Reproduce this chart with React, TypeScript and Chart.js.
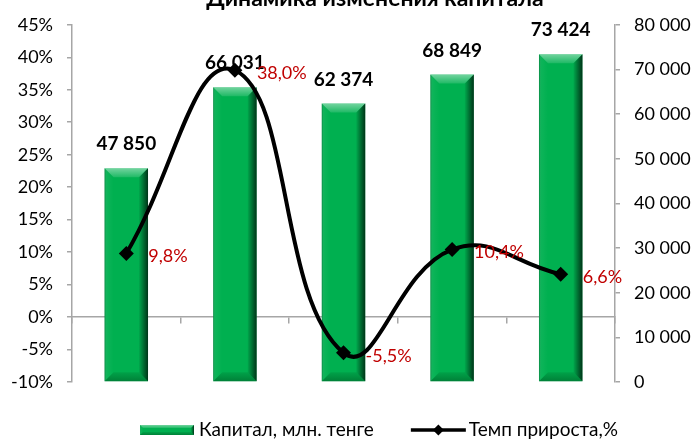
import React, { useEffect, useRef } from 'react';
import { Chart, registerables } from 'chart.js';

Chart.register(...registerables);

const chartTitle = 'Динамика изменения капитала';
const years = ['2013', '2014', '2015', '2016', '2017'];
const capital = [47850, 66031, 62374, 68849, 73424];
const growth = [9.8, 38.0, -5.5, 10.4, 6.6];
const capitalLabel = 'Капитал, млн. тенге';
const growthLabel = 'Темп прироста,%';
const pctMin = -10;
const pctMax = 45;
const pctStep = 5;
const capMin = 0;
const capMax = 80000;
const capStep = 10000;

const FONT = 'Lato, "Liberation Sans", sans-serif';
const GREEN = '#00B050';
const AXIS = '#A6A6A6';
const RED = '#C00000';

const fmtThousands = (v: number) => String(Math.round(v)).replace(/\B(?=(\d{3})+(?!\d))/g, ' ');
const fmtPct = (v: number) => v.toFixed(1).replace('.', ',') + '%';

function poly(ctx: CanvasRenderingContext2D, pts: number[][], fill: any) {
  ctx.beginPath();
  ctx.moveTo(pts[0][0], pts[0][1]);
  for (let i = 1; i < pts.length; i++) ctx.lineTo(pts[i][0], pts[i][1]);
  ctx.closePath();
  ctx.fillStyle = fill;
  ctx.fill();
}

function drawBevel(ctx: CanvasRenderingContext2D, left: number, top: number, w: number, h: number, b: number) {
  const right = left + w;
  const bottom = top + h;
  ctx.save();
  let g = ctx.createLinearGradient(0, top, 0, top + b);
  g.addColorStop(0, 'rgba(255,255,255,0.45)');
  g.addColorStop(1, 'rgba(255,255,255,0.12)');
  poly(ctx, [[left, top], [right, top], [right - b, top + b], [left + b, top + b]], g);
  g = ctx.createLinearGradient(0, bottom - b, 0, bottom);
  g.addColorStop(0, 'rgba(0,40,10,0.10)');
  g.addColorStop(1, 'rgba(0,40,10,0.35)');
  poly(ctx, [[left, bottom], [right, bottom], [right - b, bottom - b], [left + b, bottom - b]], g);
  g = ctx.createLinearGradient(left, 0, left + b, 0);
  g.addColorStop(0, 'rgba(0,0,0,0.25)');
  g.addColorStop(0.25, 'rgba(255,255,255,0.05)');
  g.addColorStop(1, 'rgba(255,255,255,0.0)');
  poly(ctx, [[left, top], [left + b, top + b], [left + b, bottom - b], [left, bottom]], g);
  g = ctx.createLinearGradient(right - b, 0, right, 0);
  g.addColorStop(0, 'rgba(0,0,0,0.05)');
  g.addColorStop(1, 'rgba(0,0,0,0.7)');
  poly(ctx, [[right, top], [right - b, top + b], [right - b, bottom - b], [right, bottom]], g);
  ctx.restore();
}

function drawDiamond(ctx: CanvasRenderingContext2D, x: number, y: number, r: number) {
  poly(ctx, [[x, y - r], [x + r, y], [x, y + r], [x - r, y]], '#000');
}

const decorPlugin = {
  id: 'decor',
  afterDatasetDraw(chart: any, args: any) {
    if (args.index !== 0) return;
    const ctx: CanvasRenderingContext2D = chart.ctx;
    const meta = chart.getDatasetMeta(0);
    meta.data.forEach((el: any, i: number) => {
      const p = el.getProps(['x', 'y', 'base', 'width'], true);
      drawBevel(ctx, p.x - p.width / 2, p.y, p.width, p.base - p.y, 9);
      ctx.save();
      ctx.font = `bold 19px ${FONT}`;
      ctx.fillStyle = '#000';
      ctx.textAlign = 'center';
      ctx.textBaseline = 'middle';
      ctx.fillText(fmtThousands(capital[i]), p.x, p.y - 24);
      ctx.restore();
    });
  },
  afterDraw(chart: any) {
    const ctx: CanvasRenderingContext2D = chart.ctx;
    // line labels
    const meta = chart.getDatasetMeta(1);
    ctx.save();
    ctx.font = `18px ${FONT}`;
    ctx.fillStyle = RED;
    ctx.textAlign = 'left';
    ctx.textBaseline = 'middle';
    meta.data.forEach((el: any, i: number) => {
      const p = el.getProps(['x', 'y'], true);
      ctx.fillText(fmtPct(growth[i]), p.x + 22, p.y + 3);
    });
    ctx.restore();

    // title (clipped at top as in the reference)
    ctx.save();
    ctx.font = `bold 23px ${FONT}`;
    ctx.fillStyle = '#000';
    ctx.textAlign = 'center';
    ctx.textBaseline = 'alphabetic';
    ctx.fillText(chartTitle, 375, 6);
    ctx.restore();

    // legend
    ctx.save();
    ctx.font = `19px ${FONT}`;
    ctx.textBaseline = 'middle';
    ctx.textAlign = 'left';
    const t1 = ctx.measureText(capitalLabel).width;
    const t2 = ctx.measureText(growthLabel).width;
    const icon1 = 54, icon2 = 55, gap1 = 5, gap2 = 3, spacing = 37;
    const total = icon1 + gap1 + t1 + spacing + icon2 + gap2 + t2;
    let x = 379 - total / 2;
    const cy = 430;
    ctx.fillStyle = GREEN;
    ctx.fillRect(x, cy - 5, icon1, 10);
    drawBevel(ctx, x, cy - 5, icon1, 10, 3);
    x += icon1 + gap1;
    ctx.fillStyle = '#000';
    ctx.fillText(capitalLabel, x, cy);
    x += t1 + spacing;
    ctx.strokeStyle = '#000';
    ctx.lineWidth = 3.5;
    ctx.beginPath();
    ctx.moveTo(x, cy);
    ctx.lineTo(x + icon2, cy);
    ctx.stroke();
    drawDiamond(ctx, x + icon2 / 2, cy, 5.5);
    x += icon2 + gap2;
    ctx.fillStyle = '#000';
    ctx.fillText(growthLabel, x, cy);
    ctx.restore();
  },
};

export default function App() {
  const canvasRef = useRef<HTMLCanvasElement | null>(null);

  useEffect(() => {
    const canvas = canvasRef.current;
    if (!canvas) return;
    const tickFont = { family: FONT, size: 18 };
    const chart = new Chart(canvas, {
      type: 'bar',
      data: {
        labels: years,
        datasets: [
          {
            type: 'bar',
            label: capitalLabel,
            data: capital,
            yAxisID: 'y1',
            backgroundColor: GREEN,
            borderWidth: 0,
            barPercentage: 0.4,
            categoryPercentage: 1,
            order: 2,
          } as any,
          {
            type: 'line',
            label: growthLabel,
            data: growth,
            yAxisID: 'y',
            borderColor: '#000',
            backgroundColor: '#000',
            borderWidth: 4,
            tension: 0.45,
            pointStyle: 'rectRot',
            pointRadius: 7.5,
            pointBackgroundColor: '#000',
            pointBorderColor: '#000',
            pointBorderWidth: 0,
            fill: false,
            order: 1,
          } as any,
        ],
      },
      options: {
        responsive: false,
        animation: false,
        events: [],
        layout: { padding: { left: 0, right: 0, top: 18, bottom: 59 } },
        plugins: {
          legend: { display: false },
          title: { display: false },
          tooltip: { enabled: false },
        },
        scales: {
          x: {
            type: 'category',
            position: { y: 0 } as any,
            z: 1,
            offset: true,
            grid: {
              offset: true,
              drawOnChartArea: false,
              drawTicks: true,
              tickLength: 6,
              color: AXIS,
              lineWidth: 1.5,
            },
            border: { display: true, color: AXIS, width: 1.5 },
            ticks: { color: '#000', font: tickFont, padding: 6, maxRotation: 0 },
          },
          y: {
            type: 'linear',
            position: 'left',
            min: pctMin,
            max: pctMax,
            ticks: {
              stepSize: pctStep,
              color: '#000',
              font: tickFont,
              padding: 14,
              callback: (v: any) => `${v}%`,
            },
            grid: { drawOnChartArea: false, drawTicks: true, tickLength: 5, color: AXIS, lineWidth: 1.5 },
            border: { display: true, color: AXIS, width: 1.5 },
            afterFit: (s: any) => {
              s.width = 72;
            },
          },
          y1: {
            type: 'linear',
            position: 'right',
            min: capMin,
            max: capMax,
            ticks: {
              stepSize: capStep,
              color: '#000',
              font: tickFont,
              padding: 14,
              callback: (v: any) => fmtThousands(Number(v)),
            },
            grid: { drawOnChartArea: false, drawTicks: true, tickLength: 5, color: AXIS, lineWidth: 1.5 },
            border: { display: true, color: AXIS, width: 1.5 },
            afterFit: (s: any) => {
              s.width = 80;
            },
          },
        },
      } as any,
      plugins: [decorPlugin],
    });
    return () => chart.destroy();
  }, []);

  return (
    <div style={{ position: 'fixed', left: 0, top: 0, width: 695, height: 441, background: '#fff' }}>
      <canvas ref={canvasRef} width={695} height={441} style={{ display: 'block', width: 695, height: 441 }} />
    </div>
  );
}
